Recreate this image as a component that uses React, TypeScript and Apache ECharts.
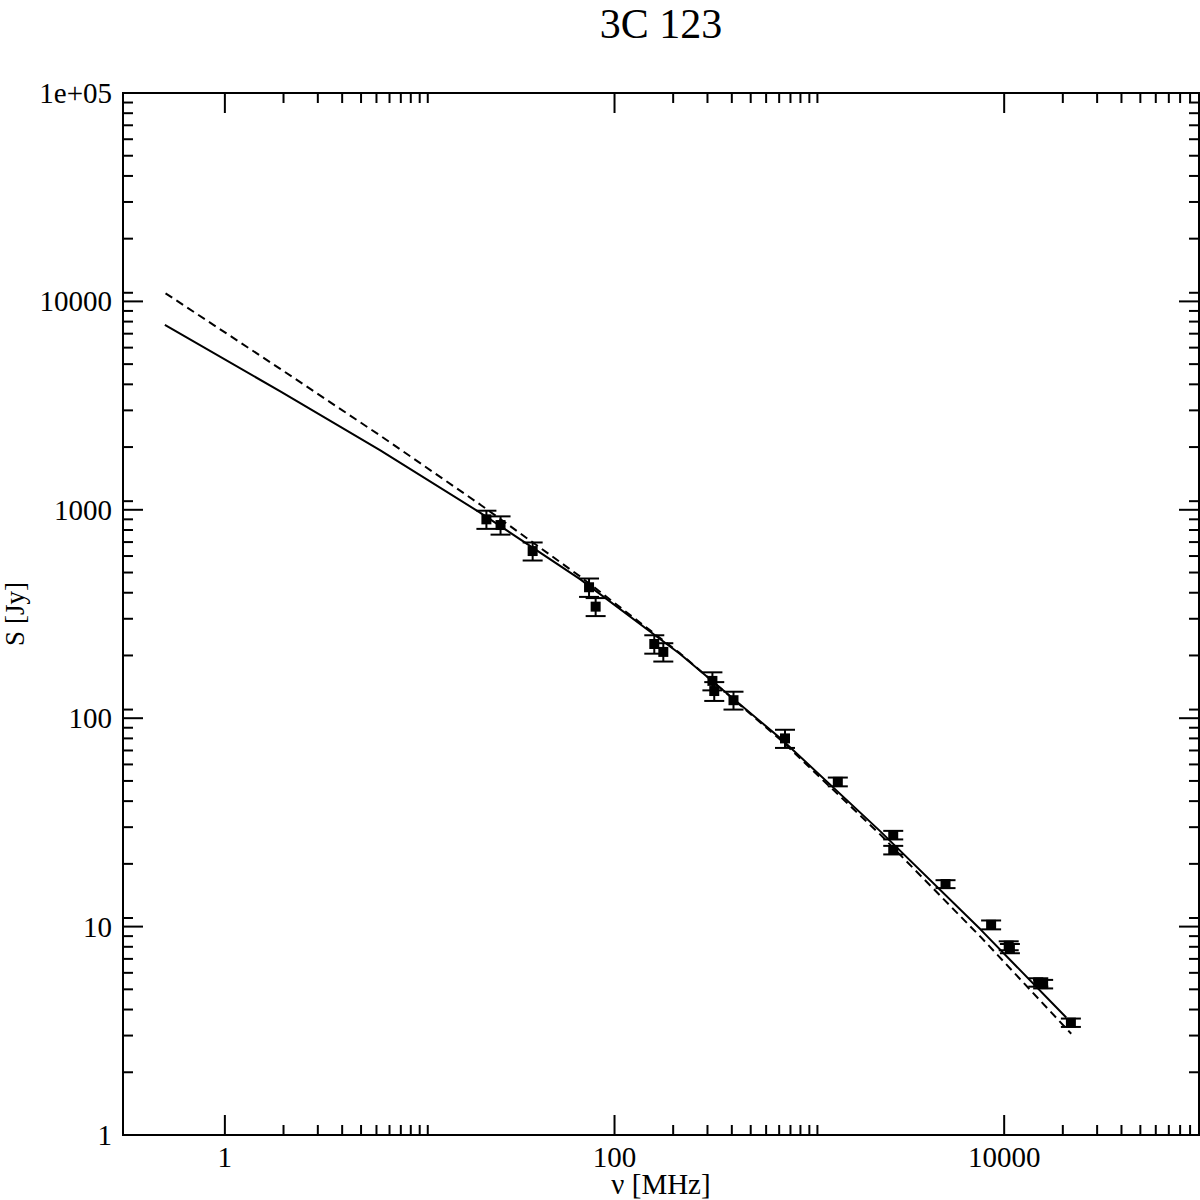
import React, { useEffect, useRef } from "react";
import * as echarts from "echarts";

const titleText = "3C 123";
const xName = "ν [MHz]";
const yName = "S [Jy]";

// observed points (MHz, Jy, ±Jy)
const obsFreqMHz = [22, 26, 38, 74, 80, 160, 178, 318, 325, 408, 750, 1400, 2695, 2695, 5000, 8570, 10550, 10700, 14960, 15850, 22000];
const obsFluxJy = [900, 845, 634, 425, 343, 227, 208, 151, 135, 122, 80, 49.5, 27.5, 23.3, 16.0, 10.2, 8.1, 7.85, 5.4, 5.3, 3.46];
const obsErrJy = [90, 85, 63, 43, 34, 23, 21, 15, 14, 12, 8, 2.4, 1.3, 1.1, 0.7, 0.5, 0.4, 0.4, 0.25, 0.25, 0.16];

// fitted curves
const solidFreq = [0.492, 1.916, 6.25, 20.4, 66.5, 217, 708, 2308, 7530, 20820];
const solidFlux = [7706, 3711, 1934, 969.6, 465.1, 203.1, 80.3, 28.72, 9.73, 3.66];
const dashFreq = [0.496, 1.916, 6.25, 20.4, 66.5, 217, 708, 2308, 7530, 22090];
const dashFlux = [10937, 4759, 2275, 1061, 479, 204.6, 79.1, 27.7, 8.97, 3.06];

// axis ticks
const xMajorTicks = [1, 100, 10000];
const xMajorLabels = ["1", "100", "10000"];
const xMinorTicks = [2, 3, 4, 5, 6, 7, 8, 9, 10, 11, 200, 300, 400, 500, 600, 700, 800, 900, 1000, 1100, 20000, 30000, 40000, 50000, 60000, 70000, 80000, 90000];
const yMajorTicks = [1, 10, 100, 1000, 10000, 100000];
const yMajorLabels = ["1", "10", "100", "1000", "10000", "1e+05"];
const yMinorMultipliers = [2, 3, 4, 5, 6, 7, 8, 9, 11];

const X_MIN = 0.3;
const X_MAX = 100000;
const Y_MIN = 1;
const Y_MAX = 100000;

const FONT = '"Liberation Serif", "Times New Roman", serif';
const MAJOR_LEN = 20;
const MINOR_LEN = 10;

export default function App() {
  const ref = useRef<HTMLDivElement>(null);

  useEffect(() => {
    if (!ref.current) return;
    const chart = echarts.init(ref.current, undefined, { renderer: "svg" });

    const yMinorTicks: number[] = [];
    yMajorTicks.forEach((d) => {
      yMinorMultipliers.forEach((m) => {
        const v = d * m;
        if (v < Y_MAX) yMinorTicks.push(v);
      });
    });

    const lineStyle = { stroke: "#000", lineWidth: 2 };

    const xTickSeries = (ticks: number[], len: number, labels?: string[]) => ({
      type: "custom",
      silent: true,
      clip: false,
      z: 5,
      data: ticks.map((v) => [v, Y_MIN]),
      renderItem: (params: any, api: any) => {
        const v = api.value(0);
        const b = api.coord([v, Y_MIN]);
        const t = api.coord([v, Y_MAX]);
        const children: any[] = [
          { type: "line", shape: { x1: b[0], y1: b[1], x2: b[0], y2: b[1] - len }, style: lineStyle },
          { type: "line", shape: { x1: t[0], y1: t[1], x2: t[0], y2: t[1] + len }, style: lineStyle },
        ];
        if (labels) {
          children.push({
            type: "text",
            x: b[0],
            y: b[1] + 22,
            style: { text: labels[params.dataIndex], fill: "#000", fontSize: 29, fontFamily: FONT, align: "center", verticalAlign: "middle" },
          });
        }
        return { type: "group", children };
      },
    });

    const yTickSeries = (ticks: number[], len: number, labels?: string[]) => ({
      type: "custom",
      silent: true,
      clip: false,
      z: 5,
      data: ticks.map((v) => [X_MIN, v]),
      renderItem: (params: any, api: any) => {
        const v = api.value(1);
        const l = api.coord([X_MIN, v]);
        const r = api.coord([X_MAX, v]);
        const children: any[] = [
          { type: "line", shape: { x1: l[0], y1: l[1], x2: l[0] + len, y2: l[1] }, style: lineStyle },
          { type: "line", shape: { x1: r[0], y1: r[1], x2: r[0] - len, y2: r[1] }, style: lineStyle },
        ];
        if (labels) {
          children.push({
            type: "text",
            x: l[0] - 11,
            y: l[1],
            style: { text: labels[params.dataIndex], fill: "#000", fontSize: 29, fontFamily: FONT, align: "right", verticalAlign: "middle" },
          });
        }
        return { type: "group", children };
      },
    });

    const option: any = {
      animation: false,
      backgroundColor: "#fff",
      grid: {
        left: 123,
        right: 1,
        top: 93,
        bottom: 65,
        containLabel: false,
        outerBoundsMode: "none",
        show: true,
        borderColor: "#000",
        borderWidth: 2,
        backgroundColor: "transparent",
      },
      graphic: [
        {
          type: "text",
          x: 661,
          y: 24,
          style: { text: titleText, fill: "#000", fontSize: 42, fontFamily: FONT, align: "center", verticalAlign: "middle" },
        },
      ],
      xAxis: {
        type: "log",
        logBase: 10,
        min: X_MIN,
        max: X_MAX,
        axisLine: { show: false },
        axisTick: { show: false },
        axisLabel: { show: false },
        splitLine: { show: false },
        name: xName,
        nameLocation: "middle",
        nameGap: 34,
        nameTextStyle: { fontSize: 29, fontFamily: FONT, color: "#000" },
      },
      yAxis: {
        type: "log",
        logBase: 10,
        min: Y_MIN,
        max: Y_MAX,
        axisLine: { show: false },
        axisTick: { show: false },
        axisLabel: { show: false },
        splitLine: { show: false },
        name: yName,
        nameLocation: "middle",
        nameRotate: 90,
        nameGap: 95,
        nameTextStyle: { fontSize: 27, fontFamily: FONT, color: "#000" },
      },
      series: [
        xTickSeries(xMajorTicks, MAJOR_LEN, xMajorLabels),
        xTickSeries(xMinorTicks, MINOR_LEN),
        yTickSeries(yMajorTicks, MAJOR_LEN, yMajorLabels),
        yTickSeries(yMinorTicks, MINOR_LEN),
        {
          type: "line",
          name: "fit",
          data: solidFreq.map((f, i) => [f, solidFlux[i]]),
          showSymbol: false,
          symbol: "none",
          lineStyle: { color: "#000", width: 2, type: "solid" },
          z: 3,
        },
        {
          type: "line",
          name: "fit2",
          data: dashFreq.map((f, i) => [f, dashFlux[i]]),
          showSymbol: false,
          symbol: "none",
          lineStyle: { color: "#000", width: 2, type: [8, 5] },
          z: 3,
        },
        {
          type: "custom",
          name: "data",
          clip: false,
          z: 4,
          data: obsFreqMHz.map((f, i) => [f, obsFluxJy[i], obsFluxJy[i] - obsErrJy[i], obsFluxJy[i] + obsErrJy[i]]),
          encode: { x: 0, y: 1 },
          renderItem: (params: any, api: any) => {
            const f = api.value(0);
            const c = api.coord([f, api.value(1)]);
            const lo = api.coord([f, api.value(2)]);
            const hi = api.coord([f, api.value(3)]);
            const cap = 10;
            return {
              type: "group",
              children: [
                { type: "line", shape: { x1: c[0], y1: lo[1], x2: c[0], y2: hi[1] }, style: lineStyle },
                { type: "line", shape: { x1: c[0] - cap, y1: lo[1], x2: c[0] + cap, y2: lo[1] }, style: lineStyle },
                { type: "line", shape: { x1: c[0] - cap, y1: hi[1], x2: c[0] + cap, y2: hi[1] }, style: lineStyle },
                { type: "rect", shape: { x: c[0] - 5, y: c[1] - 5, width: 10, height: 10 }, style: { fill: "#000" } },
              ],
            };
          },
        },
      ],
    };

    chart.setOption(option);
    return () => chart.dispose();
  }, []);

  return (
    <div
      ref={ref}
      style={{ position: "absolute", left: 0, top: 0, width: 1200, height: 1200, background: "#fff" }}
    />
  );
}
